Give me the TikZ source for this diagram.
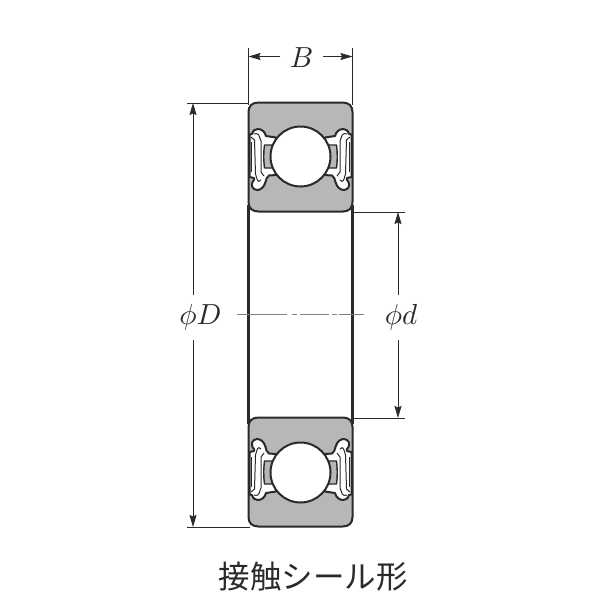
\documentclass[tikz,border=0pt]{standalone}
\usepackage{graphicx}
\usepackage{fontspec}
\newfontfamily\cjk{Noto Sans CJK JP}
\usetikzlibrary{arrows.meta}
\definecolor{body}{HTML}{B7B7B7}
\definecolor{ink}{HTML}{2A2A2A}
\tikzset{
  x=1pt,y=-1pt,
  thinline/.style={draw=ink,line width=1pt},
  dimline/.style={thinline,-{Stealth[length=12pt,width=7pt,inset=1.5pt]}},
  sectionline/.style={draw=ink,line width=2pt,line join=round},
  lbl/.style={inner sep=0pt,outer sep=0pt,text=ink},
}
\newcommand{\biglbl}[1]{\scalebox{2.9}{$#1$}}
\newcommand{\sealhalf}{%
  \path[sectionline,fill=white] (249.5,134.5) -- (252,134) .. controls (253,130) and (256,129) .. (258,129)
    .. controls (262,129) and (265,132) .. (266,136) -- (276,137.5) -- (280,156) -- (276,175) -- (269,175.5)
    .. controls (267,177) and (266,179) .. (265.5,182) .. controls (264,188) and (260,190) .. (257,190)
    .. controls (252,189.5) and (251,185) .. (252.5,182) .. controls (254,180) and (255,179) .. (254,178)
    -- (249.5,177) -- cycle;
  \path[draw=ink,line width=1pt,line join=round] (251,137) -- (254.5,140) -- (255.5,174) -- (257,179) .. controls (258,182) and (260,182) .. (261,180);
  \path[draw=ink,line width=1pt,line join=round] (254,134) .. controls (257,133) and (259,134) .. (259.5,137) -- (261,141) -- (261,172) -- (264,176);
  \path[draw=ink,line width=0.8pt] (251.5,142) -- (251.5,172);
  \path[draw=ink,line width=1.4pt,fill=body,line join=round] (276,145) -- (264.5,145) .. controls (263.5,152) and (263.5,160) .. (264.5,168) -- (276,168) -- cycle;
}
\newcommand{\halfsection}{%
  \path[sectionline,fill=body] (258.5,102.5) -- (342.5,102.5) .. controls (349,102.5) and (352.5,106) .. (352.5,112)
    -- (352.5,202) .. controls (352.5,208) and (349,211.5) .. (343,211.5) -- (258.5,211.5)
    .. controls (252,211.5) and (248.5,208) .. (248.5,202) -- (248.5,112) .. controls (248.5,106) and (252,102.5) .. (258.5,102.5) -- cycle;
  \sealhalf
  \begin{scope}[xshift=601pt,xscale=-1]\sealhalf\end{scope}
  \path[sectionline,fill=white] (300.5,156.5) circle[radius=30];
}
\begin{document}
\begin{tikzpicture}
\useasboundingbox (0,0) rectangle (600,600);
\fill[white] (0,0) rectangle (600,600);
% bearing sections
\halfsection
\begin{scope}[yshift=-629pt,yscale=-1]\halfsection\end{scope}
\draw[draw=ink,line width=2.4pt] (248.5,205) -- (248.5,424);
\draw[draw=ink,line width=2.4pt] (352.5,205) -- (352.5,424);
% centre line
\draw[draw=gray,line width=1.3pt,dash pattern=on 50pt off 5pt on 5pt off 3pt on 29pt off 3pt on 5pt off 2pt on 26pt] (237,314.5) -- (364,314.5);
% named anchors of the dimensions
\coordinate (bl) at (248.5,56.5);
\coordinate (br) at (352.5,56.5);
\coordinate (Dt) at (193,103);
\coordinate (Db) at (193,527);
\coordinate (dt) at (398,212);
\coordinate (db) at (398,418);
\node[lbl,minimum width=43pt,minimum height=24pt] (lblB) at (301.5,57.5) {\biglbl{B}};
\node[lbl,minimum height=45pt] (lblD) at (200.5,317.5) {\biglbl{\phi D}};
\node[lbl,minimum height=45pt] (lbld) at (401,317.5) {\biglbl{\phi d}};
% extension lines
\coordinate (e1) at (248.5,48); \coordinate (e2) at (248.5,105);
\coordinate (e3) at (352.5,48); \coordinate (e4) at (352.5,105);
\coordinate (e5) at (187,103); \coordinate (e6) at (249,103);
\coordinate (e7) at (187,527); \coordinate (e8) at (250,527);
\coordinate (e9) at (351,212); \coordinate (e10) at (405,212);
\coordinate (e11) at (351,418); \coordinate (e12) at (405,418);
\draw[thinline] (e1) -- (e2);
\draw[thinline] (e3) -- (e4);
\draw[thinline] (e5) -- (e6);
\draw[thinline] (e7) -- (e8);
\draw[thinline] (e9) -- (e10);
\draw[thinline] (e11) -- (e12);
% dimension arrows
\draw[dimline] (lblB.west |- bl) -- (bl);
\draw[dimline] (lblB.east |- br) -- (br);
\draw[dimline] (lblD.north -| Dt) -- (Dt);
\draw[dimline] (lblD.south -| Db) -- (Db);
\draw[dimline] (lbld.north -| dt) -- (dt);
\draw[dimline] (lbld.south -| db) -- (db);
% caption
\node[inner sep=0pt,text=ink,font=\cjk\fontsize{31.5}{31.5}\selectfont] (caption) at (313,577) {接触シール形};
\end{tikzpicture}
\end{document}
